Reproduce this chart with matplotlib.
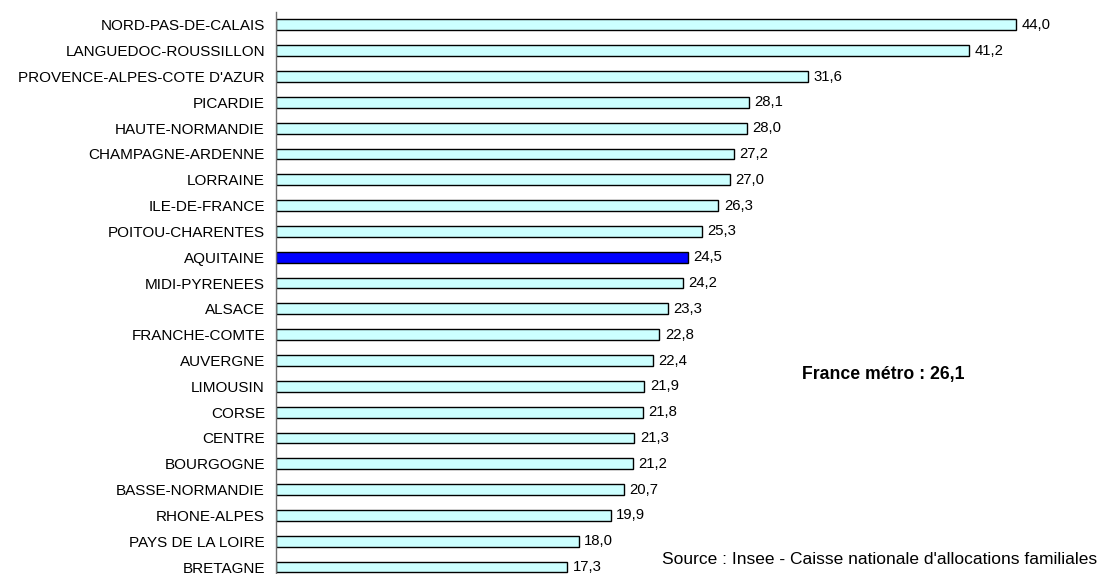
import matplotlib
matplotlib.use("Agg")
import matplotlib.pyplot as plt

regions = ["NORD-PAS-DE-CALAIS", "LANGUEDOC-ROUSSILLON", "PROVENCE-ALPES-COTE D'AZUR",
           "PICARDIE", "HAUTE-NORMANDIE", "CHAMPAGNE-ARDENNE", "LORRAINE", "ILE-DE-FRANCE",
           "POITOU-CHARENTES", "AQUITAINE", "MIDI-PYRENEES", "ALSACE", "FRANCHE-COMTE",
           "AUVERGNE", "LIMOUSIN", "CORSE", "CENTRE", "BOURGOGNE", "BASSE-NORMANDIE",
           "RHONE-ALPES", "PAYS DE LA LOIRE", "BRETAGNE"]
values = [44.0, 41.2, 31.6, 28.1, 28.0, 27.2, 27.0, 26.3, 25.3, 24.5, 24.2, 23.3, 22.8,
          22.4, 21.9, 21.8, 21.3, 21.2, 20.7, 19.9, 18.0, 17.3]
highlight = "AQUITAINE"
france_label = "France métro : 26,1"
source_label = "Source : Insee - Caisse nationale d'allocations familiales"

plt.rcParams['font.family'] = ['Liberation Sans', 'DejaVu Sans']

W, H = 1100, 574
fig = plt.figure(figsize=(W / 100, H / 100), dpi=100)
ax = fig.add_axes([276 / W, 0, 1 - 276 / W, (574 - 12) / H])

colors = ['#0000FF' if r == highlight else '#CCFFFF' for r in regions]
ypos = list(range(len(regions)))
ax.barh(ypos, values, height=0.42, color=colors, edgecolor='black', linewidth=1.0)

ax.set_xlim(0, 824 / 16.82)
ax.set_ylim(len(regions) - 1 + 0.27, -0.5)

for y, v in zip(ypos, values):
    ax.annotate(f"{v:.1f}".replace('.', ','), xy=(v, y), xytext=(4, 0),
                textcoords='offset points', va='center', ha='left', fontsize=10.7)

ax.set_yticks(ypos)
ax.set_yticklabels(regions, fontsize=11)
ax.tick_params(axis='y', length=0, pad=8)
ax.set_xticks([])
for s in ['top', 'right', 'bottom']:
    ax.spines[s].set_visible(False)
ax.spines['left'].set_color('#707070')
ax.spines['left'].set_linewidth(1.0)

fig.text(802 / W, 1 - 375 / H, france_label, fontsize=12.7, fontweight='bold',
         ha='left', va='center')
fig.text(1097 / W, 1 - 560 / H, source_label, fontsize=12.5, ha='right', va='center')

fig.savefig("out.png", dpi=100)
